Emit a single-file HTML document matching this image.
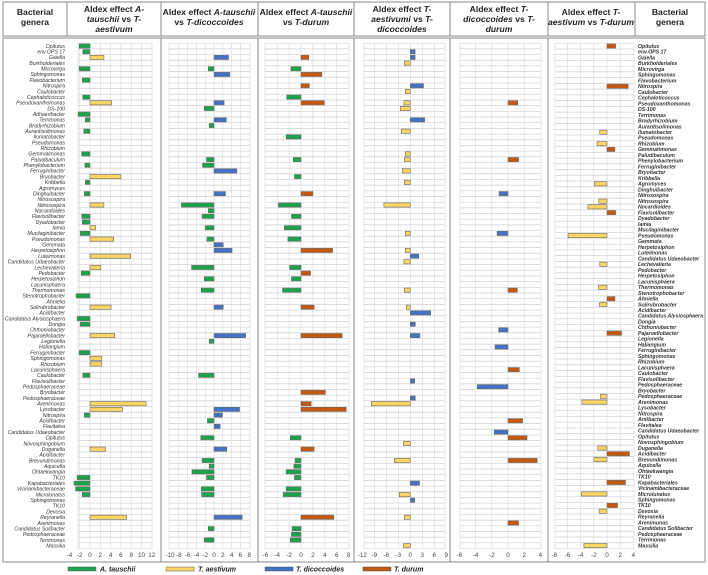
<!DOCTYPE html>
<html><head><meta charset="utf-8"><style>
body{margin:0;background:#fff;width:708px;height:575px;overflow:hidden;font-family:"Liberation Sans",sans-serif}
svg{display:block}
</style></head><body>
<svg id="chart" width="708" height="575" viewBox="0 0 708 575" xmlns="http://www.w3.org/2000/svg">
<g id="frame" fill="none" stroke="#8a8a8a" stroke-width="1">
<rect x="3" y="2" width="702" height="34"/>
<line x1="67" y1="2" x2="67" y2="36"/>
<line x1="161" y1="2" x2="161" y2="36"/>
<line x1="258" y1="2" x2="258" y2="36"/>
<line x1="354" y1="2" x2="354" y2="36"/>
<line x1="450" y1="2" x2="450" y2="36"/>
<line x1="548" y1="2" x2="548" y2="36"/>
<line x1="635" y1="2" x2="635" y2="36"/>
<rect x="3" y="38" width="702" height="524"/>
<line x1="161" y1="38" x2="161" y2="562"/>
<line x1="258" y1="38" x2="258" y2="562"/>
<line x1="354" y1="38" x2="354" y2="562"/>
<line x1="450" y1="38" x2="450" y2="562"/>
<line x1="548" y1="38" x2="548" y2="562"/>
</g>
<g font-weight="bold" font-size="8.6" fill="#222" text-anchor="middle">
<text x="35" y="15">Bacterial<tspan x="35" dy="10">genera</tspan></text>
<text x="114" y="12">Aldex effect <tspan font-style="italic">A-</tspan><tspan x="114" dy="10" font-style="italic">tauschii</tspan> vs <tspan font-style="italic">T-</tspan><tspan x="114" dy="10" font-style="italic">aestivum</tspan></text>
<text x="209" y="15">Aldex effect <tspan font-style="italic">A-tauschii</tspan><tspan x="209" dy="10">vs </tspan><tspan font-style="italic">T-dicoccoides</tspan></text>
<text x="306" y="15">Aldex effect <tspan font-style="italic">A-tauschii</tspan><tspan x="306" dy="10">vs </tspan><tspan font-style="italic">T-durum</tspan></text>
<text x="402" y="12">Aldex effect <tspan font-style="italic">T-</tspan><tspan x="402" dy="10" font-style="italic">aestivumi</tspan> vs <tspan font-style="italic">T-</tspan><tspan x="402" dy="10" font-style="italic">dicoccoides</tspan></text>
<text x="499" y="12">Aldex effect <tspan font-style="italic">T-</tspan><tspan x="499" dy="10" font-style="italic">dicoccoides</tspan> vs <tspan font-style="italic">T-</tspan><tspan x="499" dy="10" font-style="italic">durum</tspan></text>
<text x="591" y="15">Aldex effect <tspan font-style="italic">T-</tspan><tspan x="591" dy="10" font-style="italic">aestivum</tspan> vs <tspan font-style="italic">T-durum</tspan></text>
<text x="670" y="15">Bacterial<tspan x="670" dy="10">genera</tspan></text>
</g>
<g id="plots"></g>
<g font-size="7" font-style="italic" font-weight="bold" fill="#222">
<rect x="68" y="567" width="28" height="4" fill="#1ba34b" stroke="#555" stroke-width="0.5"/>
<text x="100" y="571.5">A. tauschii</text>
<rect x="166" y="567" width="28" height="4" fill="#fad564" stroke="#555" stroke-width="0.5"/>
<text x="198" y="571.5">T. aestivum</text>
<rect x="265" y="567" width="28" height="4" fill="#4472c4" stroke="#555" stroke-width="0.5"/>
<text x="296" y="571.5">T. dicoccoides</text>
<rect x="363" y="567" width="28" height="4" fill="#c5580f" stroke="#555" stroke-width="0.5"/>
<text x="394" y="571.5">T. durum</text>
</g>
</svg>
<script>
const leftGenera = ["Opitutus","env.OPS 17","Gaiella","Burkholderiales","Microvirga","Sphingomonas","Flavobacterium","Nitrospira","Caulobacter","Cephaloticoccus","Pseudoxanthomonas","DS-100","Adhaeribacter","Terrimonas","Bradyrhizobium","Aurantisolimonas","Ilumatobacter","Pseudomonas","Rhizobium","Gemmatimonas","Paludibaculum","Phenylobacterium","Ferruginibacter","Bryobacter","Kribbella","Agromyces","Dinghuibacter","Nitrosospira","Nitrosospira","Nocardioides","Flavisolibacter","Dyadobacter","Iamia","Mucilaginibacter","Pseudomonas","Gemmata","Herpetosiphon","Luteimonas","Candidatus Udaeobacter","Lechevalieria","Pedobacter","Herpetosiphon","Lacunisphaera","Thermomonas","Stenotrophobacter","Ahniella","Solirubrobacter","Acidibacter","Candidatus Alysiosphaera","Dongia","Chthoniobacter","Pajaroellobacter","Legionella","Haliangium","Ferruginibacter","Sphingomonas","Rhizobium","Lacunisphaera","Caulobacter","Flavisolibacter","Pedosphaeraceae","Bryobacter","Pedosphaeraceae","Arenimonas","Lysobacter","Nitrospira","Acidibacter","Flavitalea","Candidatus Udaeobacter","Opitutus","Novosphingobium","Duganella","Acidibacter","Brevundimonas","Aquicella","Ohtaekwangia","TK10","Kapabacteriales","Vicinamibacteraceae","Microlunatus","Sphingomonas","TK10","Devosia","Reyranella","Arenimonas","Candidatus Solibacter","Pedosphaeraceae","Terrimonas","Massilia"];
const rightGenera = ["Opitutus","env.OPS 17","Gaiella","Burkholderiales","Microvirga","Sphingomonas","Flavobacterium","Nitrospira","Caulobacter","Cephaloticoccus","Pseudoxanthomonas","DS-100","Terrimonas","Bradyrhizobium","Aurantisolimonas","Ilumatobacter","Pseudomonas","Rhizobium","Gemmatimonas","Paludibaculum","Phenylobacterium","Ferruginibacter","Bryobacter","Kribbella","Agromyces","Dinghuibacter","Nitrosospira","Nitrosospira","Nocardioides","Flavisolibacter","Dyadobacter","Iamia","Mucilaginibacter","Pseudomonas","Gemmata","Herpetosiphon","Luteimonas","Candidatus Udaeobacter","Lechevalieria","Pedobacter","Herpetosiphon","Lacunisphaera","Thermomonas","Stenotrophobacter","Ahniella","Solirubrobacter","Acidibacter","Candidatus Alysiosphaera","Dongia","Chthoniobacter","Pajaroellobacter","Legionella","Haliangium","Ferruginibacter","Sphingomonas","Rhizobium","Lacunisphaera","Caulobacter","Flavisolibacter","Pedosphaeraceae","Bryobacter","Pedosphaeraceae","Arenimonas","Lysobacter","Nitrospira","Antibacter","Flavitalea","Candidatus Udaeobacter","Opitutus","Novosphingobium","Duganella","Acidibacter","Brevundimonas","Aquicella","Ohtaekwangia","TK10","Kapabacteriales","Vicinamibacteraceae","Microlunatus","Sphingomonas","TK10","Devosia","Reyranella","Arenimonas","Candidatus Solibacter","Pedosphaeraceae","Terrimonas","Massilia"];

// Panel 1: A. tauschii (neg) vs T. aestivum (pos)
const p1Rows = [0,1,2,4,6,9,10,12,13,15,19,21,23,24,26,28,30,31,32,33,34,37,39,40,44,46,48,49,51,54,55,56,58,63,64,65,71,76,77,78,79,83];
const p1Vals = [-2.1,-1.4,2.7,-2.1,-1.5,-1.4,4.2,-2.3,-0.9,-1.2,-1.6,-1,6,-0.9,-1.1,2.7,-1.6,-1.5,1.1,-1.9,4.6,7.9,2.1,-1.7,-2.7,4.1,-2.5,-1.9,4.8,-2.1,2.3,2.3,-1.4,10.9,6.3,-1.1,3,-2.5,-3.1,-2.8,-1.5,7.1];
// Panel 2: A. tauschii vs T. dicoccoides
const p2Rows = [2,4,5,10,11,13,14,20,21,22,26,28,29,30,32,34,35,36,39,41,43,46,51,52,58,64,65,66,67,69,71,73,74,75,76,78,79,83,85,87];
const p2Vals = [3.3,-1.3,3.6,2.3,-2.2,2.8,-1.1,-1.7,-2.6,5.2,2.6,-7.4,-1.3,-2.7,-2,-1.6,2.1,4.1,-5.1,-2.2,-2.9,2.1,7.2,-1.1,-3.5,5.8,1.9,-1.5,1.4,-3,2.9,-2.7,-1.1,-5,-1.7,-2.9,-2.8,6.4,-1.3,-2.2];
// Panel 3: A. tauschii vs T. durum
const p3Rows = [2,4,5,7,9,10,16,20,23,26,28,30,32,34,36,39,40,41,43,46,51,61,63,64,69,71,73,74,75,76,78,79,83,85,86,87];
const p3Vals = [1.3,-1.7,3.5,1.4,-2.4,3.9,-2.5,-1.3,-1.1,2,-3.8,-1.6,-2.8,-2.2,5.3,-1.9,1.6,-1.6,-3.1,2.2,6.9,4.1,1.7,7.6,-1.8,2.2,-1,-1.2,-2.5,-1.1,-2.5,-3,5.5,-1.5,-1.6,-1.8];
// Panel 4: T. aestivum (neg) vs T. dicoccoides (pos)
const p4Rows = [1,2,3,7,8,10,11,13,15,19,20,22,24,28,33,36,37,38,43,46,47,49,51,59,62,63,70,73,77,79,80,83,88];
const p4Vals = [1.2,1.2,-1.5,3.3,-1.25,-1.6,-2.5,3.6,-2.25,-1.25,-1.5,-2,-1.5,-6.6,-1.25,-1.25,2.1,-1.6,-1.5,-1,5.1,1.25,2.4,1.1,1.25,-9.75,-1.7,-4,2.3,-2.75,1.1,-1.5,-1.7];
// Panel 5: T. dicoccoides (neg) vs T. durum (pos)
const p5Rows = [10,20,26,33,43,50,53,57,60,66,68,69,73,84];
const p5Vals = [1.2,1.3,-1.1,-1.35,1.15,-1.15,-1.6,1.4,-3.8,1.8,-1.7,2.35,3.6,1.3];
// Panel 6: T. aestivum (neg) vs T. durum (pos)
const p6Rows = [0,7,15,17,18,24,27,28,29,33,38,42,44,45,50,61,62,70,71,72,76,78,80,81,87];
const p6Vals = [1.3,3.2,-1.1,-1.5,1.2,-1.9,-1.25,-2.9,1.3,-5.9,-1.1,-1.3,1.2,-1.15,2.2,-1,-3.8,-1.4,3.4,-2,2.8,-3.9,1.6,-1.2,-3.5];

const p1Ticks = [-4,-2,0,2,4,6,8,10,12];
const p2Ticks = [-10,-8,-6,-4,-2,0,2,4,6,8];
const p3Ticks = [-6,-4,-2,0,2,4,6,8];
const p4Ticks = [-12,-9,-6,-3,0,3,6,9];
const p5Ticks = [-6,-4,-2,0,2,4];
const p6Ticks = [-8,-6,-4,-2,0,2,4];

const COLORS = {at:"#1ba34b", ae:"#fad564", di:"#4472c4", du:"#c5580f"};
const panels = [
 {name:"a-tauschii-vs-t-aestivum", rows:p1Rows, vals:p1Vals, ticks:p1Ticks, zero:90, unit:5.15, gx0:78, gx1:152, n:89, neg:"at", pos:"ae"},
 {name:"a-tauschii-vs-t-dicoccoides", rows:p2Rows, vals:p2Vals, ticks:p2Ticks, zero:214, unit:4.4, gx0:169, gx1:250, n:89, neg:"at", pos:"di"},
 {name:"a-tauschii-vs-t-durum", rows:p3Rows, vals:p3Vals, ticks:p3Ticks, zero:301, unit:5.95, gx0:265, gx1:349, n:89, neg:"at", pos:"du"},
 {name:"t-aestivum-vs-t-dicoccoides", rows:p4Rows, vals:p4Vals, ticks:p4Ticks, zero:410.3, unit:4, gx0:364, gx1:445, n:89, neg:"ae", pos:"di"},
 {name:"t-dicoccoides-vs-t-durum", rows:p5Rows, vals:p5Vals, ticks:p5Ticks, zero:508, unit:8.1, gx0:460, gx1:541, n:89, neg:"di", pos:"du"},
 {name:"t-aestivum-vs-t-durum", rows:p6Rows, vals:p6Vals, ticks:p6Ticks, zero:607, unit:6.6, gx0:555, gx1:634, n:88, neg:"ae", pos:"du"}
];
const NS = "http://www.w3.org/2000/svg";
const root = document.getElementById("plots");
const TOP = 43.2, BOT = 548.5;
function mk(tag, attrs, parent){const e=document.createElementNS(NS,tag);for(const k in attrs)e.setAttribute(k,attrs[k]);parent.appendChild(e);return e;}

panels.forEach(p=>{
  const g = mk("g",{},root);
  
  
  const step = (BOT-TOP)/p.n;
  const xs = v => p.zero + v*p.unit;
  const ys = i => TOP + step*(i+0.5);
  mk("rect",{x:p.gx0,y:TOP,width:p.gx1-p.gx0,height:BOT-TOP,fill:"#fff",stroke:"#d4d4d4","stroke-width":0.6},g);
  for(let i=1;i<p.n;i++){
    const l = mk("line",{x1:p.gx0,x2:p.gx1,y1:TOP+step*i,y2:TOP+step*i,stroke:"#cfcfcf","stroke-width":0.7},g);
    
    
  }
  p.ticks.forEach(t=>{
    const x = xs(t);
    if(x>p.gx0+1 && x<p.gx1-1){
      const l = mk("line",{x1:x,x2:x,y1:TOP,y2:BOT,stroke:"#d8d8d8","stroke-width":0.6},g);
      
      
    }
    const tx = mk("text",{x:x,y:557,"font-size":6.3,fill:"#444","text-anchor":"middle"},g);
    tx.textContent = t;
    
    
  });
  p.rows.forEach((r,k)=>{
    const v = p.vals[k];
    const x0 = xs(Math.min(0,v)), x1 = xs(Math.max(0,v));
    const b = mk("rect",{x:x0,y:ys(r)-2.1,width:Math.max(0.5,x1-x0),height:4.2,fill:COLORS[v<0?p.neg:p.pos],stroke:"#6b6b6b","stroke-width":0.6},g);
    
    
  });
});

const lg = mk("g",{"font-size":5.2,"font-style":"italic",fill:"#333"},root);


const lstep=(BOT-TOP)/89;
leftGenera.forEach((n,i)=>{
  const t = mk("text",{x:65,y:TOP+lstep*(i+0.5)+1.8,"text-anchor":"end"},lg);
  t.textContent = n;
  
  
});
const rg = mk("g",{"font-size":5.2,"font-style":"italic","font-weight":"bold",fill:"#333"},root);


const rstep=(BOT-TOP)/88;
rightGenera.forEach((n,i)=>{
  const t = mk("text",{x:638,y:TOP+rstep*(i+0.5)+1.8},rg);
  t.textContent = n;
  
  
});
</script>
</body></html>
